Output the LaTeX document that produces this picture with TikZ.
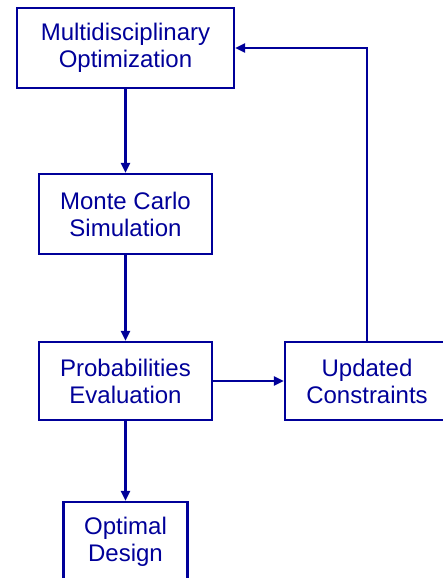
\documentclass[tikz,border=0pt]{standalone}
\usepackage{fontspec}
\setmainfont{Liberation Sans}
\usetikzlibrary{arrows.meta,positioning}
\definecolor{FlowBlue}{RGB}{0,0,153}

\begin{document}
\begin{tikzpicture}[x=1pt,y=-1pt,>={Triangle[length=10pt,width=9pt]},
    stepbox/.style={draw=FlowBlue,line width=2.4pt,inner sep=0pt,align=center,
      text=FlowBlue,font=\fontsize{24}{27}\selectfont},
    flow/.style={->,line width=2.4pt,FlowBlue}]
      \useasboundingbox (0,0) rectangle (443,578);
      \node[stepbox,minimum width=217pt,minimum height=80pt] (mdo) at (125.5,48)
        {Multidisciplinary\\Optimization};
      \node[stepbox,minimum width=173pt,minimum height=80pt] (mcs) at (125.5,214)
        {Monte Carlo\\Simulation};
      \node[stepbox,minimum width=173pt,minimum height=78pt] (pev) at (125.5,381)
        {Probabilities\\Evaluation};
      \node[stepbox,minimum width=164pt,minimum height=78pt] (ucon) at (367,381)
        {Updated\\Constraints};
      \node[stepbox,minimum width=124pt,minimum height=80pt] (odes) at (125.5,542)
        {Optimal\\Design};
      \draw[flow] (mdo) -- (mcs);
      \draw[flow] (mcs) -- (pev);
      \draw[flow] (pev) -- (ucon);
      \draw[flow] (pev) -- (odes);
      \draw[flow] (ucon.north) |- (mdo.east);
    \end{tikzpicture}
\end{document}
